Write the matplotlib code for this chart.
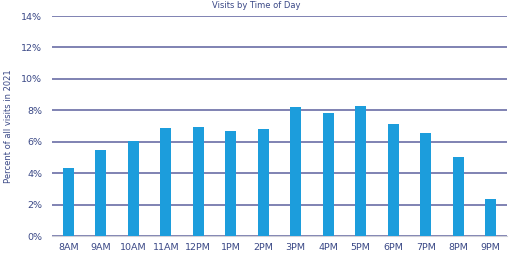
import numpy as np
import matplotlib.pyplot as plt

# Share of visits by hour of day
hours = ['8AM', '9AM', '10AM', '11AM', '12PM', '1PM', '2PM',
         '3PM', '4PM', '5PM', '6PM', '7PM', '8PM', '9PM']
pct = [4.33, 5.5, 6.05, 6.9, 6.95, 6.7, 6.8,
       8.2, 7.85, 8.28, 7.1, 6.55, 5.0, 2.35]
yticks = [0, 2, 4, 6, 8, 10, 12, 14]

bar_color = '#1c9ddc'
grid_color = '#5c609e'
text_color = '#3a4886'

fig = plt.figure(figsize=(5.12, 2.59), dpi=100)
ax = fig.add_axes([0.1016, 0.0888, 0.8884, 0.8494])

x = np.arange(len(hours))
ax.bar(x, pct, width=0.34, color=bar_color, zorder=3)

ax.set_xlim(-0.5, len(hours) - 0.5)
ax.set_ylim(0, 14)
ax.set_yticks(yticks)
ax.set_yticklabels([f'{t}%' for t in yticks])
ax.set_xticks(x)
ax.set_xticklabels(hours)

ax.grid(axis='y', color=grid_color, linewidth=1.1, zorder=0)
for side in ['top', 'right', 'left']:
    ax.spines[side].set_visible(False)
ax.spines['bottom'].set_color('#d0d0d8')
ax.tick_params(axis='both', length=0, labelsize=6.8, colors=text_color)
ax.tick_params(axis='x', pad=5)
ax.tick_params(axis='y', pad=7)

ax.set_ylabel('Percent of all visits in 2021', fontsize=6, color=text_color, labelpad=6)

# title sits right at the top edge in the original
fig.text(0.5, 0.998, 'Visits by Time of Day', ha='center', va='top',
         fontsize=6, color=text_color)

fig.savefig('out.png', dpi=100)
